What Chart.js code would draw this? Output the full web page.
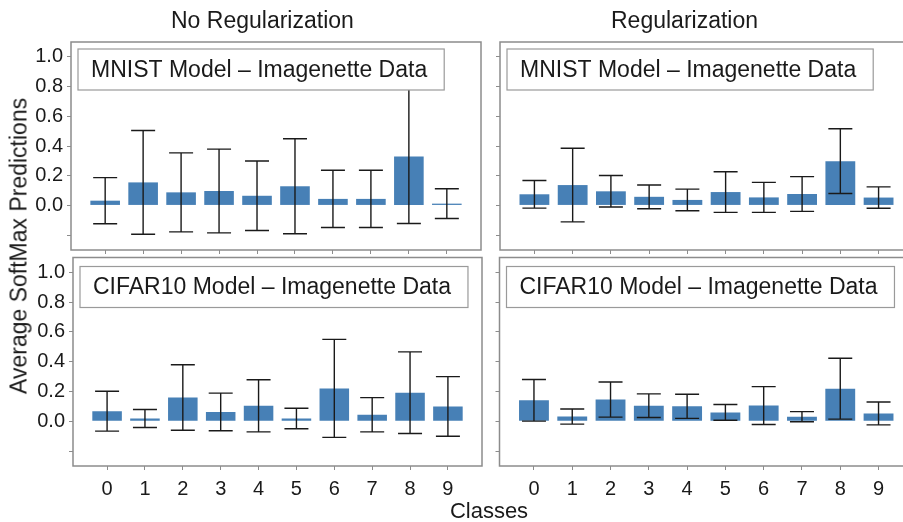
<!DOCTYPE html>
<html>
<head>
<meta charset="utf-8">
<script src="https://cdn.jsdelivr.net/npm/chart.js@4.4.1/dist/chart.umd.min.js"></script>
<style>
    html, body { margin: 0; padding: 0; background: #fff; overflow: hidden; }
    body { width: 903px; height: 522px; position: relative;
           font-family: 'Liberation Sans', Arial, sans-serif; color: #1a1a1a; }
    canvas { position: absolute; }
    .label { position: absolute; white-space: nowrap; font-size: 23px; line-height: 23px; }
</style>
</head>
<body>

<canvas id="c_tl" width="490" height="256" style="left:0px; top:0px"></canvas>
<canvas id="c_tr" width="440" height="256" style="left:480px; top:0px"></canvas>
<canvas id="c_bl" width="490" height="272" style="left:0px; top:250px"></canvas>
<canvas id="c_br" width="440" height="272" style="left:480px; top:250px"></canvas>

<div class="label" id="t_noreg" style="left:171px; top:9px">No Regularization</div>
<div class="label" id="t_reg" style="left:611px; top:9px">Regularization</div>
<div class="label" id="t_y" style="left:19px; top:246px; transform: translate(-50%, -50%) rotate(-90deg);">Average SoftMax Predictions</div>
<div class="label" id="t_x" style="left:489px; top:499px; transform: translateX(-50%); font-size: 22px;">Classes</div>

<script>
/* values: mean softmax output and its spread per class */

const classes = [ 0, 1, 2, 3, 4, 5, 6, 7, 8, 9 ];
const y_ticks = [ -0.2, 0.0, 0.2, 0.4, 0.6, 0.8, 1.0 ];

const mnist_noreg_mean = [ 0.032, 0.155, 0.088, 0.097, 0.065, 0.129, 0.044, 0.044, 0.330, 0.012 ];
const mnist_noreg_sd   = [ 0.155, 0.349, 0.266, 0.282, 0.234, 0.320, 0.193, 0.193, 0.452, 0.100 ];

const mnist_reg_mean = [ 0.075, 0.137, 0.095, 0.058, 0.037, 0.090, 0.054, 0.077, 0.298, 0.053 ];
const mnist_reg_sd   = [ 0.093, 0.248, 0.106, 0.080, 0.073, 0.137, 0.101, 0.117, 0.218, 0.072 ];

const cifar_noreg_mean = [ 0.068, 0.019, 0.160, 0.063, 0.104, 0.019, 0.221, 0.044, 0.192, 0.100 ];
const cifar_noreg_sd   = [ 0.134, 0.060, 0.220, 0.126, 0.175, 0.069, 0.329, 0.115, 0.274, 0.200 ];

const cifar_reg_mean = [ 0.141, 0.032, 0.146, 0.105, 0.101, 0.060, 0.106, 0.031, 0.219, 0.053 ];
const cifar_reg_sd   = [ 0.140, 0.051, 0.118, 0.079, 0.081, 0.053, 0.127, 0.034, 0.204, 0.077 ];

const FONT = "'Liberation Sans', Arial, sans-serif";
const FRAME_COLOUR = '#8c8c8c';

Chart.defaults.font.family = FONT;
Chart.defaults.font.size = 20;
Chart.defaults.color = '#1a1a1a';

// grey box round the plot area
const frame_plugin =
{
    id: 'frame',
    afterDatasetsDraw: function (chart)
    {
        const a = chart.chartArea;
        const ctx = chart.ctx;
        ctx.save();
        ctx.strokeStyle = FRAME_COLOUR;
        ctx.lineWidth = 1.5;
        ctx.strokeRect(a.left, a.top, a.right - a.left, a.bottom - a.top);
        ctx.restore();
    }
};

// mean +/- sd whiskers, positioned through the chart scales
const error_plugin =
{
    id: 'errorbars',
    afterDatasetsDraw: function (chart)
    {
        const ctx = chart.ctx;
        const xs = chart.scales.x;
        const ys = chart.scales.y;
        const ds = chart.data.datasets[0];
        ctx.save();
        ctx.strokeStyle = '#1a1a1a';
        ctx.lineWidth = 1.4;
        for ( let ii = 0; ii < ds.data.length; ++ii )
        {
            const pt = ds.data[ii];
            const px = xs.getPixelForValue(pt.x);
            const top = ys.getPixelForValue(pt.y + ds.errors[ii]);
            const bot = ys.getPixelForValue(pt.y - ds.errors[ii]);
            ctx.beginPath();
            ctx.moveTo(px, top); ctx.lineTo(px, bot);
            ctx.moveTo(px - 12, top); ctx.lineTo(px + 12, top);
            ctx.moveTo(px - 12, bot); ctx.lineTo(px + 12, bot);
            ctx.stroke();
        }
        ctx.restore();
    }
};

// boxed panel caption in the top left corner
const caption_plugin =
{
    id: 'caption',
    afterDraw: function (chart, args, opts)
    {
        const a = chart.chartArea;
        const ctx = chart.ctx;
        ctx.save();
        ctx.font = '23px ' + FONT;
        const w = ctx.measureText(opts.text).width + 30;
        const h = 41;
        const x = a.left + 7;
        const y = a.top + opts.dy;
        ctx.fillStyle = '#fff';
        ctx.fillRect(x, y, w, h);
        ctx.strokeStyle = '#9a9a9a';
        ctx.lineWidth = 1.2;
        ctx.strokeRect(x, y, w, h);
        ctx.fillStyle = '#1a1a1a';
        ctx.textBaseline = 'middle';
        ctx.fillText(opts.text, x + 13, y + h / 2 + 1);
        ctx.restore();
    }
};

function make_panel ( id, means, sds, caption,
    {
        show_x = false,
        show_y = false,
        y_width = 71,
        x_height = 6,
        pad = { top: 42, right: 9 },
        dy = 7
    } = {} )
{
    const pts = classes.map((c, ii) => ({ x: c, y: means[ii] }));

    const data =
    {
        datasets: [{
            data: pts,
            errors: sds,
            backgroundColor: '#4780b6',
            borderWidth: 0,
            categoryPercentage: 1.0,
            barPercentage: 0.78
        }]
    };

    const options =
    {
        responsive: false,
        animation: false,
        layout: { padding: { top: pad.top, right: pad.right, left: 0, bottom: 0 } },
        scales:
        {
            x:
            {
                type: 'linear',
                min: -0.9,
                max: 9.9,
                offset: false,
                afterBuildTicks: s => { s.ticks = classes.map(v => ({ value: v })); },
                afterFit: s => { s.height = x_height; s.paddingLeft = 0; s.paddingRight = 0; },
                grid: { offset: false, drawOnChartArea: false, drawTicks: true, tickLength: 4, color: FRAME_COLOUR },
                border: { display: false },
                ticks: { padding: 7, maxRotation: 0, autoSkip: false,
                         callback: v => show_x ? String(v) : '' }
            },
            y:
            {
                type: 'linear',
                min: -0.3,
                max: 1.1,
                afterBuildTicks: s => { s.ticks = y_ticks.map(v => ({ value: v })); },
                afterFit: s => { s.width = y_width; s.paddingTop = 0; s.paddingBottom = 0; },
                grid: { drawOnChartArea: false, drawTicks: true, tickLength: 4, color: FRAME_COLOUR },
                border: { display: false },
                ticks: { padding: 4, autoSkip: false,
                         callback: v => ( show_y && v >= 0 ) ? v.toFixed(1) : '' }
            }
        },
        plugins:
        {
            legend: { display: false },
            tooltip: { enabled: false },
            caption: { text: caption, dy: dy }
        }
    };

    return new Chart(document.getElementById(id),
        { type: 'bar', data: data, options: options,
          plugins: [ frame_plugin, error_plugin, caption_plugin ] });
}

make_panel('c_tl', mnist_noreg_mean, mnist_noreg_sd, 'MNIST Model \u2013 Imagenette Data',
    { show_y: true, y_width: 71, x_height: 6, pad: { top: 42, right: 9 }, dy: 7 });

make_panel('c_tr', mnist_reg_mean, mnist_reg_sd, 'MNIST Model \u2013 Imagenette Data',
    { y_width: 20, x_height: 6, pad: { top: 42, right: 7 }, dy: 7 });

make_panel('c_bl', cifar_noreg_mean, cifar_noreg_sd, 'CIFAR10 Model \u2013 Imagenette Data',
    { show_x: true, show_y: true, y_width: 73, x_height: 56, pad: { top: 7.5, right: 8 }, dy: 9 });

make_panel('c_br', cifar_reg_mean, cifar_reg_sd, 'CIFAR10 Model \u2013 Imagenette Data',
    { show_x: true, y_width: 19.5, x_height: 56, pad: { top: 7.5, right: 7 }, dy: 9 });
</script>
</body>
</html>
